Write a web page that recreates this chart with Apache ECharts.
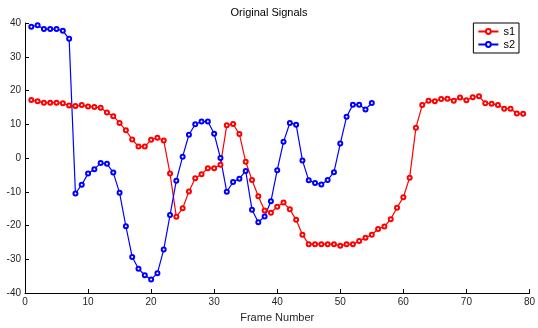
<!DOCTYPE html>
<html>
<head>
<meta charset="utf-8">
<script src="https://cdn.jsdelivr.net/npm/echarts@6/dist/echarts.min.js"></script>
<style>
  html, body { margin: 0; padding: 0; background: #fff; }
  #main { width: 538px; height: 328px; }
</style>
</head>
<body>
<div id="main"></div>
<script>
// frame numbers and signal values
var s1Frames = [];
for (var i = 1; i <= 79; i++) s1Frames.push(i);
var s1 = [17.2, 16.8, 16.4, 16.4, 16.4, 16.2, 15.6, 15.4, 15.7, 15.3,
          15.1, 14.9, 13.5, 12.4, 10.4, 8.2, 5.5, 3.4, 3.4, 5.4,
          6.0, 5.2, -4.6, -17.4, -14.9, -9.9, -6.0, -4.8, -3.0, -3.0,
          -2.0, 9.7, 10.1, 7.1, -1.1, -6.5, -11.3, -15.5, -16.2, -14.4,
          -13.2, -15.2, -18.3, -22.7, -25.5, -25.5, -25.5, -25.5, -25.5, -26.0,
          -25.5, -25.5, -24.6, -23.6, -22.7, -21.0, -20.3, -18.1, -14.7, -11.6,
          -5.8, 9.0, 15.7, 17.0, 16.8, 17.5, 17.6, 17.0, 17.9, 17.1,
          18.0, 18.3, 16.2, 16.1, 15.7, 14.6, 14.6, 13.2, 13.1];
var s2 = [38.9, 39.3, 38.2, 38.2, 38.2, 37.7, 35.3, -10.5, -7.9, -4.6,
          -3.3, -1.5, -1.7, -4.3, -10.3, -20.2, -29.3, -32.8, -34.7, -36.0,
          -34.1, -27.1, -16.9, -6.7, 0.4, 6.9, 10.0, 10.8, 10.8, 7.2,
          0.0, -10.0, -7.1, -6.1, -3.8, -15.3, -19.0, -17.3, -12.8, -3.6,
          4.8, 10.4, 9.9, -0.7, -6.6, -7.4, -7.8, -6.5, -4.2, 4.3,
          12.2, 15.8, 15.8, 14.4, 16.3];
var xTicks = [0, 10, 20, 30, 40, 50, 60, 70, 80];

function pairs(vals) {
    var out = [];
    for (var k = 0; k < vals.length; k++) out.push([s1Frames[k], vals[k]]);
    return out;
}

var myChart = echarts.init(document.getElementById('main'));
var textCol = '#262626';
myChart.setOption({
    animation: false,
    title: {
        text: 'Original Signals',
        left: 'center',
        top: 2,
        textStyle: { fontFamily: 'Liberation Sans', fontSize: 11, fontWeight: 'normal', color: '#000' }
    },
    legend: {
        orient: 'vertical',
        right: 19,
        top: 23,
        itemGap: 2,
        padding: [3, 4, 3, 4],
        itemWidth: 20,
        itemHeight: 6,
        borderColor: '#000',
        borderWidth: 1,
        textStyle: { fontFamily: 'Liberation Sans', fontSize: 11, color: '#000' },
        data: ['s1', 's2']
    },
    grid: { left: 25, right: 6, top: 23, bottom: 29 },
    xAxis: {
        type: 'value',
        min: xTicks[0],
        max: xTicks[xTicks.length - 1],
        interval: 10,
        name: 'Frame Number',
        nameLocation: 'middle',
        nameGap: 15,
        nameTextStyle: { fontFamily: 'Liberation Sans', fontSize: 11, color: textCol },
        axisLine: { onZero: false, lineStyle: { color: '#000', width: 1 } },
        axisTick: { inside: true, length: 4, lineStyle: { color: '#000' } },
        axisLabel: { fontFamily: 'Liberation Sans', fontSize: 10, color: textCol, margin: 4 },
        splitLine: { show: false }
    },
    yAxis: {
        type: 'value',
        min: -40,
        max: 40,
        interval: 10,
        axisLine: { show: true, onZero: false, lineStyle: { color: '#000', width: 1 } },
        axisTick: { show: true, inside: true, length: 4, lineStyle: { color: '#000' } },
        axisLabel: { fontFamily: 'Liberation Sans', fontSize: 10, color: textCol, margin: 4 },
        splitLine: { show: false }
    },
    series: [
        {
            name: 's1',
            type: 'line',
            data: pairs(s1),
            symbol: 'emptyCircle',
            symbolSize: 4,
            lineStyle: { color: '#ff0000', width: 1.2 },
            itemStyle: { color: '#ff0000', borderWidth: 1 }
        },
        {
            name: 's2',
            type: 'line',
            data: pairs(s2),
            symbol: 'emptyCircle',
            symbolSize: 4,
            lineStyle: { color: '#0000ff', width: 1.2 },
            itemStyle: { color: '#0000ff', borderWidth: 1 }
        }
    ]
});
</script>
</body>
</html>
